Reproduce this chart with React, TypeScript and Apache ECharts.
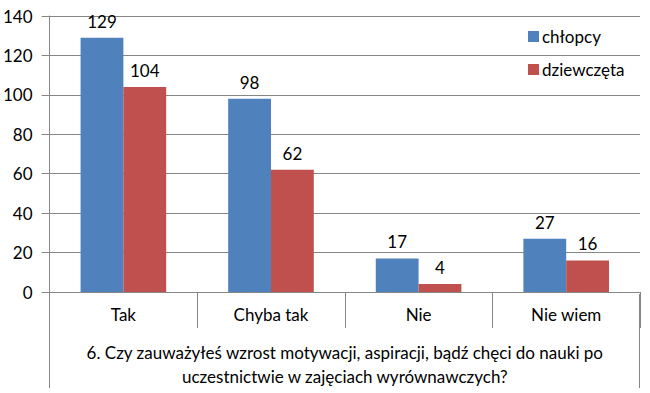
import React, { useEffect, useRef } from "react";
import * as echarts from "echarts";

const categories = ["Tak", "Chyba tak", "Nie", "Nie wiem"];
const chlopcy = [129, 98, 17, 27];
const dziewczeta = [104, 62, 4, 16];
const seriesNames = ["chłopcy", "dziewczęta"];
const axisTitle =
  "6. Czy zauważyłeś wzrost motywacji, aspiracji, bądź chęci do nauki po\nuczestnictwie w zajęciach wyrównawczych?";

const W = 650;
const H = 393;
const GL = 49;
const GR = 640;
const GT = 16;
const GB = 294;
const FONT = "Lato";
const FS = 17;
const LINE = "#868686";

export default function App() {
  const ref = useRef<HTMLDivElement>(null);
  useEffect(() => {
    if (!ref.current) return;
    const chart = echarts.init(ref.current, null, { renderer: "svg" });
    const label = {
      show: true,
      position: "top" as const,
      distance: 8,
      color: "#000",
      fontFamily: FONT,
      fontSize: FS,
    };
    chart.setOption({
      animation: false,
      backgroundColor: "#fff",
      textStyle: { fontFamily: FONT },
      grid: { left: GL, right: W - GR, top: GT, bottom: H - GB, containLabel: false },
      legend: {
        orient: "vertical",
        left: 523,
        top: 23,
        itemWidth: 11,
        itemHeight: 11,
        itemGap: 16,
        icon: "rect",
        textStyle: { fontFamily: FONT, fontSize: FS, color: "#000", padding: [0, 0, 0, -2] },
        data: seriesNames,
      },
      xAxis: {
        type: "category",
        data: categories,
        axisLine: { show: true, lineStyle: { color: LINE } },
        axisTick: { show: true, length: 36, interval: 0, lineStyle: { color: LINE } },
        axisLabel: { color: "#000", fontFamily: FONT, fontSize: FS, margin: 14, interval: 0 },
        name: axisTitle,
        nameLocation: "middle",
        nameGap: 48,
        nameTextStyle: { color: "#000", fontFamily: FONT, fontSize: FS, lineHeight: 24, align: "center" },
      },
      yAxis: {
        type: "value",
        min: 0,
        max: 140,
        interval: 20,
        axisLine: { show: true, lineStyle: { color: LINE } },
        axisTick: { show: true, length: 8, lineStyle: { color: LINE } },
        splitLine: { show: true, lineStyle: { color: LINE } },
        axisLabel: { color: "#000", fontFamily: FONT, fontSize: FS, margin: 17 },
      },
      series: [
        {
          name: seriesNames[0],
          type: "bar",
          data: chlopcy,
          barGap: "0%",
          barCategoryGap: "42%",
          itemStyle: { color: "#4F81BD" },
          label,
        },
        {
          name: seriesNames[1],
          type: "bar",
          data: dziewczeta,
          barGap: "0%",
          barCategoryGap: "42%",
          itemStyle: { color: "#C0504D" },
          label,
        },
      ],
      graphic: [
        { type: "line", shape: { x1: GL + 0.5, y1: GB, x2: GL + 0.5, y2: 388 }, style: { stroke: LINE, lineWidth: 1 } },
        { type: "line", shape: { x1: GR - 0.5, y1: GB, x2: GR - 0.5, y2: 388 }, style: { stroke: LINE, lineWidth: 1 } },
      ],
    });
    return () => chart.dispose();
  }, []);
  return <div ref={ref} style={{ width: W, height: H, position: "absolute", left: 0, top: 0 }} />;
}
